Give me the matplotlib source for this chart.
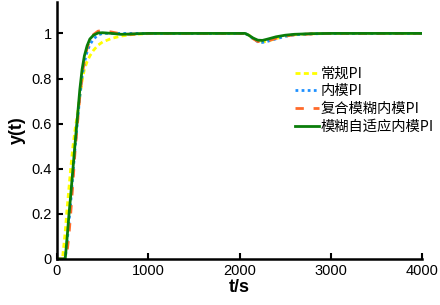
import matplotlib
matplotlib.use("Agg")
import matplotlib.pyplot as plt

plt.rcParams['font.family'] = ['Liberation Sans', 'Noto Sans CJK SC', 'DejaVu Sans']

t = [0, 60, 90, 110, 130, 150, 175, 200, 220, 250, 275, 300, 330, 360, 400, 450, 500,
     600, 700, 800, 900, 1000, 1200, 1500, 2000, 2060, 2100, 2150, 2200, 2250, 2300,
     2400, 2500, 2600, 2800, 3000, 3500, 4000]

y_conv = [0, 0, 0.12, 0.22, 0.31, 0.40, 0.50, 0.58, 0.63, 0.72, 0.79, 0.84, 0.875,
          0.90, 0.925, 0.948, 0.962, 0.978, 0.988, 0.994, 0.997, 0.999, 1.0, 1.0, 1.0,
          1.0, 0.993, 0.978, 0.966, 0.962, 0.965, 0.977, 0.988, 0.994, 0.998, 1.0, 1.0,
          1.0]
y_imc = [0, 0, 0.0, 0.07, 0.16, 0.25, 0.38, 0.50, 0.59, 0.72, 0.81, 0.87, 0.92, 0.95,
         0.975, 0.993, 1.0, 1.0, 1.0, 1.0, 1.0, 1.0, 1.0, 1.0, 1.0, 1.0, 0.992, 0.976,
         0.963, 0.960, 0.964, 0.976, 0.987, 0.994, 0.998, 1.0, 1.0, 1.0]
y_fuzzy = [0, 0, 0.0, 0.03, 0.10, 0.20, 0.34, 0.49, 0.58, 0.72, 0.81, 0.88, 0.935,
           0.97, 0.995, 1.01, 1.012, 1.006, 0.998, 0.996, 0.998, 1.0, 1.0, 1.0, 1.0, 1.0,
           0.992, 0.976, 0.964, 0.962, 0.966, 0.978, 0.988, 0.994, 0.998, 1.0, 1.0, 1.0]
y_adapt = [0, 0, 0.0, 0.09, 0.19, 0.28, 0.40, 0.52, 0.61, 0.75, 0.84, 0.90, 0.945,
           0.975, 0.992, 1.002, 1.003, 1.0, 0.996, 0.997, 0.999, 1.0, 1.0, 1.0, 1.0, 1.0,
           0.992, 0.979, 0.970, 0.969, 0.974, 0.985, 0.992, 0.996, 0.999, 1.0, 1.0, 1.0]

labels = ['常规PI', '内模PI', '复合模糊内模PI', '模糊自适应内模PI']
xticks = [0, 1000, 2000, 3000, 4000]
yticks = [0, 0.2, 0.4, 0.6, 0.8, 1]

fig = plt.figure(figsize=(4.4, 3.05), dpi=100)
ax = fig.add_axes([0.1295, 0.151, 0.83, 0.843])

ax.plot(t, y_conv, color='#ffff00', lw=2, ls=(0, (1.8, 1.2)), label=labels[0])
ax.plot(t, y_imc, color='#1e90ff', lw=2, ls=(0, (1, 1.2)), label=labels[1])
ax.plot(t, y_fuzzy, color='#ff6a2a', lw=2, ls=(0, (3, 3.5)), label=labels[2])
ax.plot(t, y_adapt, color='#0a7d0a', lw=2, ls='-', label=labels[3])

ax.set_xlim(0, 4000)
ax.set_ylim(0, 1.14)
ax.set_xticks(xticks)
ax.set_xticklabels([str(v) for v in xticks])
ax.set_yticks(yticks)
ax.set_yticklabels(['0', '0.2', '0.4', '0.6', '0.8', '1'])
for s in ['top', 'right']:
    ax.spines[s].set_visible(False)
for s in ['left', 'bottom']:
    ax.spines[s].set_linewidth(1.8)
ax.tick_params(direction='in', width=1.5, length=4, labelsize=10.5)
ax.set_xlabel('t/s', fontsize=13, fontweight='bold', labelpad=1)
ax.set_ylabel('y(t)', fontsize=13, fontweight='bold', labelpad=4)

leg = ax.legend(loc='upper left', bbox_to_anchor=(0.636, 0.77), frameon=False,
                handlelength=1.7, handletextpad=0.1, labelspacing=0.26,
                borderaxespad=0,
                prop={'family': ['Noto Sans CJK SC', 'DejaVu Sans'], 'size': 10.3})

fig.savefig('out.png', dpi=100)
